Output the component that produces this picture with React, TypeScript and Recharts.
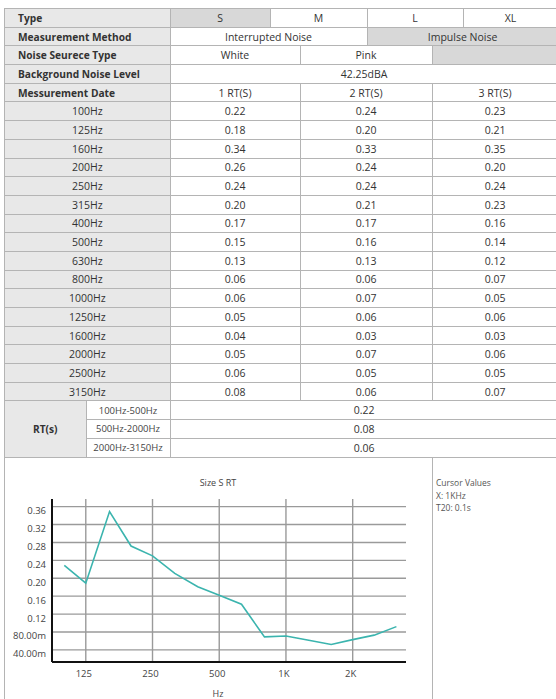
import { LineChart, Line, XAxis, YAxis, CartesianGrid } from 'recharts';

const frequencies = [100, 125, 160, 200, 250, 315, 400, 500, 630, 800, 1000, 1250, 1600, 2000, 2500, 3150];
const rt1 = [0.22, 0.18, 0.34, 0.26, 0.24, 0.2, 0.17, 0.15, 0.13, 0.06, 0.06, 0.05, 0.04, 0.05, 0.06, 0.08];
const rt2 = [0.24, 0.2, 0.33, 0.24, 0.24, 0.21, 0.17, 0.16, 0.13, 0.06, 0.07, 0.06, 0.03, 0.07, 0.05, 0.06];
const rt3 = [0.23, 0.21, 0.35, 0.2, 0.24, 0.23, 0.16, 0.14, 0.12, 0.07, 0.05, 0.06, 0.03, 0.06, 0.05, 0.07];

const rangeLabels = ['100Hz-500Hz', '500Hz-2000Hz', '2000Hz-3150Hz'];
const rangeValues = [0.22, 0.08, 0.06];

// curve shown in the "Size S RT" plot
const chartRt = [0.229, 0.189, 0.349, 0.272, 0.25, 0.211, 0.181, 0.162, 0.142, 0.069, 0.071, 0.062, 0.052, 0.063, 0.073, 0.092];
const xTicks = [125, 250, 500, 1000, 2000];
const xTickLabels = ['125', '250', '500', '1K', '2K'];
const yTicks = [0.04, 0.08, 0.12, 0.16, 0.2, 0.24, 0.28, 0.32, 0.36];

const FONT = '"Open Sans", sans-serif';
const BORDER = '1px solid #b4b4b4';
const LABEL_BG = '#e8e8e8';
const GREY_BG = '#d8d8d8';
const ROW_H = 18.7;

const colWidths = [81.5, 84, 100, 30, 67, 65, 31, 95];

const td = (extra: React.CSSProperties = {}): React.CSSProperties => ({
  border: BORDER,
  padding: 0,
  textAlign: 'center',
  fontSize: 10.5,
  color: '#333',
  whiteSpace: 'nowrap',
  overflow: 'hidden',
  ...extra,
});

const headLabel = td({ background: LABEL_BG, fontWeight: 700, fontSize: 10.2, textAlign: 'left', paddingLeft: 13 });

const chartData = frequencies.map((f, i) => ({ freq: f, rt: chartRt[i] }));

const fmtY = (v: number) => (v < 0.1 ? `${(v * 1000).toFixed(2)}m` : v.toFixed(2));

const YTick = ({ x, y, payload }: any) => (
  <text x={x} y={y + 4} textAnchor="end" dominantBaseline="central" fontSize={9.5} fill="#444" fontFamily={FONT}>
    {fmtY(payload.value)}
  </text>
);

const XTick = ({ x, y, payload }: any) => (
  <text x={x - 2} y={y} textAnchor="middle" dominantBaseline="hanging" fontSize={9.5} fill="#444" fontFamily={FONT}>
    {xTickLabels[xTicks.indexOf(payload.value)]}
  </text>
);

export default function App() {
  const rowStyle = { height: ROW_H };
  return (
    <div style={{ position: 'absolute', left: 0, top: 0, width: 556, height: 699, overflow: 'hidden', fontFamily: FONT, background: '#fff' }}>
      <table
        style={{
          position: 'absolute',
          left: 4,
          top: 8,
          borderCollapse: 'collapse',
          tableLayout: 'fixed',
          width: colWidths.reduce((a, b) => a + b, 0),
        }}
      >
        <colgroup>
          {colWidths.map((w, i) => (
            <col key={i} style={{ width: w }} />
          ))}
        </colgroup>
        <tbody>
          <tr style={rowStyle}>
            <td colSpan={2} style={headLabel}>Type</td>
            <td style={td({ background: GREY_BG })}>S</td>
            <td colSpan={2} style={td()}>M</td>
            <td colSpan={2} style={td()}>L</td>
            <td style={td()}>XL</td>
          </tr>
          <tr style={rowStyle}>
            <td colSpan={2} style={headLabel}>Measurement Method</td>
            <td colSpan={3} style={td()}>Interrupted Noise</td>
            <td colSpan={3} style={td({ background: GREY_BG })}>Impulse Noise</td>
          </tr>
          <tr style={rowStyle}>
            <td colSpan={2} style={headLabel}>Noise Seurece Type</td>
            <td colSpan={2} style={td()}>White</td>
            <td colSpan={2} style={td()}>Pink</td>
            <td colSpan={2} style={td({ background: GREY_BG })}></td>
          </tr>
          <tr style={rowStyle}>
            <td colSpan={2} style={headLabel}>Background Noise Level</td>
            <td colSpan={6} style={td()}>42.25dBA</td>
          </tr>
          <tr style={rowStyle}>
            <td colSpan={2} style={headLabel}>Messurement Date</td>
            <td colSpan={2} style={td()}>1 RT(S)</td>
            <td colSpan={2} style={td()}>2 RT(S)</td>
            <td colSpan={2} style={td()}>3 RT(S)</td>
          </tr>
          {frequencies.map((f, i) => (
            <tr key={f} style={rowStyle}>
              <td colSpan={2} style={td({ background: LABEL_BG })}>{f}Hz</td>
              <td colSpan={2} style={td()}>{rt1[i].toFixed(2)}</td>
              <td colSpan={2} style={td()}>{rt2[i].toFixed(2)}</td>
              <td colSpan={2} style={td()}>{rt3[i].toFixed(2)}</td>
            </tr>
          ))}
          {rangeLabels.map((r, i) => (
            <tr key={r} style={rowStyle}>
              {i === 0 && (
                <td rowSpan={3} style={td({ background: LABEL_BG, fontWeight: 700, fontSize: 10.2 })}>RT(s)</td>
              )}
              <td style={td({ fontSize: 9.5, color: '#444' })}>{r}</td>
              <td colSpan={6} style={td()}>{rangeValues[i].toFixed(2)}</td>
            </tr>
          ))}
        </tbody>
      </table>

      {/* lower panel borders */}
      <div style={{ position: 'absolute', left: 4, top: 457, width: 0, height: 260, borderLeft: BORDER }} />
      <div style={{ position: 'absolute', left: 432, top: 457, width: 0, height: 260, borderLeft: BORDER }} />

      <div style={{ position: 'absolute', left: 0, top: 476, width: 436, textAlign: 'center', fontSize: 9, color: '#444' }}>
        Size S RT
      </div>
      <div style={{ position: 'absolute', left: 0, top: 687, width: 436, textAlign: 'center', fontSize: 9, color: '#444' }}>
        Hz
      </div>
      <div style={{ position: 'absolute', left: 436, top: 477, fontSize: 8.5, lineHeight: '12.5px', color: '#555' }}>
        <div>Cursor Values</div>
        <div>X: 1KHz</div>
        <div>T20: 0.1s</div>
      </div>

      <div style={{ position: 'absolute', left: 0, top: 457 }}>
        <LineChart width={432} height={242} data={chartData} margin={{ top: 42, right: 26, left: 0, bottom: 0 }}>
          <CartesianGrid stroke="#9a9a9a" strokeWidth={1.4} syncWithTicks />
          <XAxis
            dataKey="freq"
            type="number"
            scale="log"
            domain={[88, 3480]}
            allowDataOverflow
            ticks={xTicks}
            interval={0}
            tickSize={0}
            tickMargin={7}
            height={37}
            tick={<XTick />}
            axisLine={{ stroke: '#111', strokeWidth: 2 }}
            tickLine={false}
          />
          <YAxis
            type="number"
            domain={[0.013, 0.377]}
            allowDataOverflow
            ticks={yTicks}
            interval={0}
            tickSize={0}
            tickMargin={6}
            width={52}
            tick={<YTick />}
            axisLine={{ stroke: '#111', strokeWidth: 2 }}
            tickLine={false}
          />
          <Line dataKey="rt" type="linear" stroke="#3bb4ae" strokeWidth={1.6} dot={false} isAnimationActive={false} />
        </LineChart>
      </div>
    </div>
  );
}
